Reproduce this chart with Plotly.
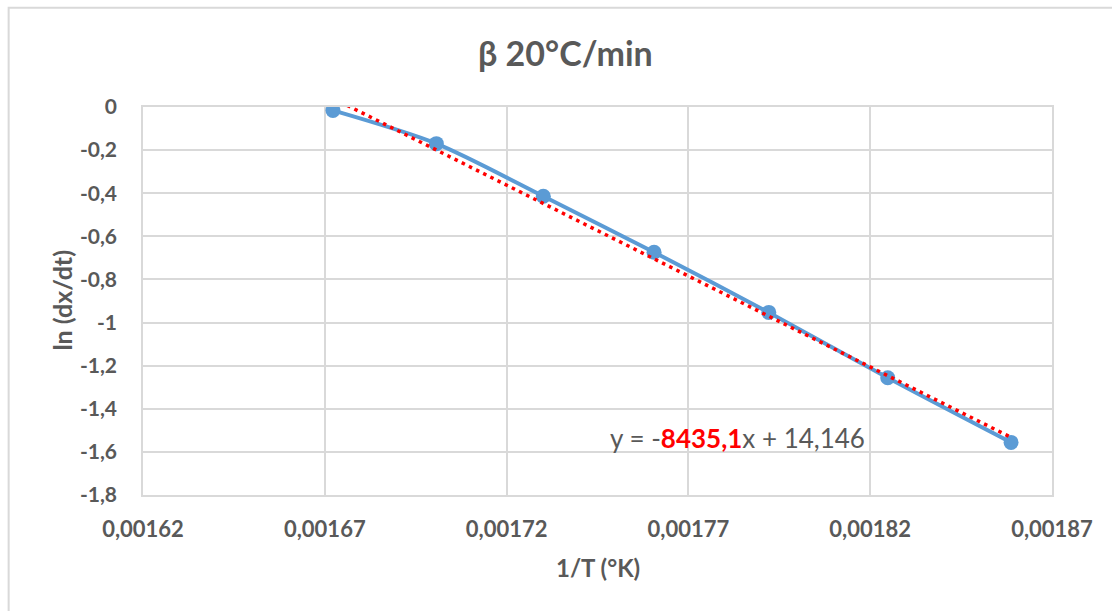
import plotly.graph_objects as go

# Data
inv_T = [0.00167224, 0.00170068, 0.00173010, 0.00176056, 0.00179211, 0.00182482, 0.00185874]
ln_rate = [-0.016, -0.170, -0.414, -0.674, -0.953, -1.256, -1.556]

slope = -8435.1
intercept = 14.146

x_tickvals = [0.00162, 0.00167, 0.00172, 0.00177, 0.00182, 0.00187]
x_ticktext = ["0,00162", "0,00167", "0,00172", "0,00177", "0,00182", "0,00187"]
y_tickvals = [0, -0.2, -0.4, -0.6, -0.8, -1.0, -1.2, -1.4, -1.6, -1.8]
y_ticktext = ["0", "-0,2", "-0,4", "-0,6", "-0,8", "-1", "-1,2", "-1,4", "-1,6", "-1,8"]

title_text = "β 20°C/min"
x_title = "1/T (°K)"
y_title = "ln (dx/dt)"

TEXT = "#595959"
GRID = "#D9D9D9"
FONT = "Lato"

trend_x = [inv_T[0], inv_T[-1]]
trend_y = [slope * v + intercept for v in trend_x]

fig = go.Figure()
fig.add_trace(go.Scatter(
    x=inv_T, y=ln_rate, mode="lines+markers",
    line=dict(color="#5B9BD5", width=4, shape="spline", smoothing=0.8),
    marker=dict(color="#5B9BD5", size=15),
    showlegend=False,
))
fig.add_trace(go.Scatter(
    x=trend_x, y=trend_y, mode="lines",
    line=dict(color="#FF0000", width=3.5, dash="3.5px,4.5px"),
    showlegend=False,
))

# plot area geometry (pixels)
W, H = 1112, 611
L, R, T, B = 142.5, 1052.5, 106.5, 495.5
pw, ph = R - L, B - T

def px(x):
    return (x - L) / pw

def py(y):
    return 1 - (y - T) / ph

fig.update_layout(
    width=W, height=H,
    margin=dict(l=L, r=W - R, t=T, b=H - B, pad=0),
    paper_bgcolor="white", plot_bgcolor="white",
    font=dict(family=FONT, color=TEXT),
    showlegend=False,
    xaxis=dict(
        range=[0.00162, 0.00187], tickvals=x_tickvals, ticktext=x_ticktext,
        showgrid=True, gridcolor=GRID, gridwidth=1.5,
        showline=True, linecolor=GRID, linewidth=1.5, mirror=True,
        zeroline=False,
        ticks="outside", ticklen=14, tickcolor="rgba(0,0,0,0)",
        tickfont=dict(family=FONT, size=22, color=TEXT, weight="bold"),
    ),
    yaxis=dict(
        range=[-1.8, 0], tickvals=y_tickvals, ticktext=y_ticktext,
        showgrid=True, gridcolor=GRID, gridwidth=1.5,
        showline=True, linecolor=GRID, linewidth=1.5, mirror=True,
        zeroline=False,
        ticks="outside", ticklen=20, tickcolor="rgba(0,0,0,0)",
        tickfont=dict(family=FONT, size=21, color=TEXT, weight="bold"),
    ),
    shapes=[dict(
        type="path", xref="paper", yref="paper",
        path=f"M {px(8)},{py(H+5)} L {px(8)},{py(7)} L {px(W+5)},{py(7)}",
        line=dict(color=GRID, width=2),
    )],
    annotations=[
        dict(text=f"<b>{title_text}</b>", xref="paper", yref="paper",
             x=px(565), y=py(52), xanchor="center", yanchor="middle",
             showarrow=False, font=dict(family=FONT, size=34, color=TEXT)),
        dict(text=f"<b>{x_title}</b>", xref="paper", yref="paper",
             x=px(598), y=py(568), xanchor="center", yanchor="middle",
             showarrow=False, font=dict(family=FONT, size=24, color=TEXT)),
        dict(text=f"<b>{y_title}</b>", xref="paper", yref="paper",
             x=px(61), y=py(300), xanchor="center", yanchor="middle",
             textangle=-90, showarrow=False,
             font=dict(family=FONT, size=25, color=TEXT)),
        dict(text="y = -<span style='color:#FF0000'><b>8435,1</b></span>x + 14,146",
             xref="paper", yref="paper",
             x=px(738), y=py(438), xanchor="center", yanchor="middle",
             showarrow=False, font=dict(family=FONT, size=26, color=TEXT)),
    ],
)

fig.write_html(
    "out.html",
    config={"displayModeBar": False},
    post_script="document.body.style.margin='0';document.body.style.padding='0';",
)
